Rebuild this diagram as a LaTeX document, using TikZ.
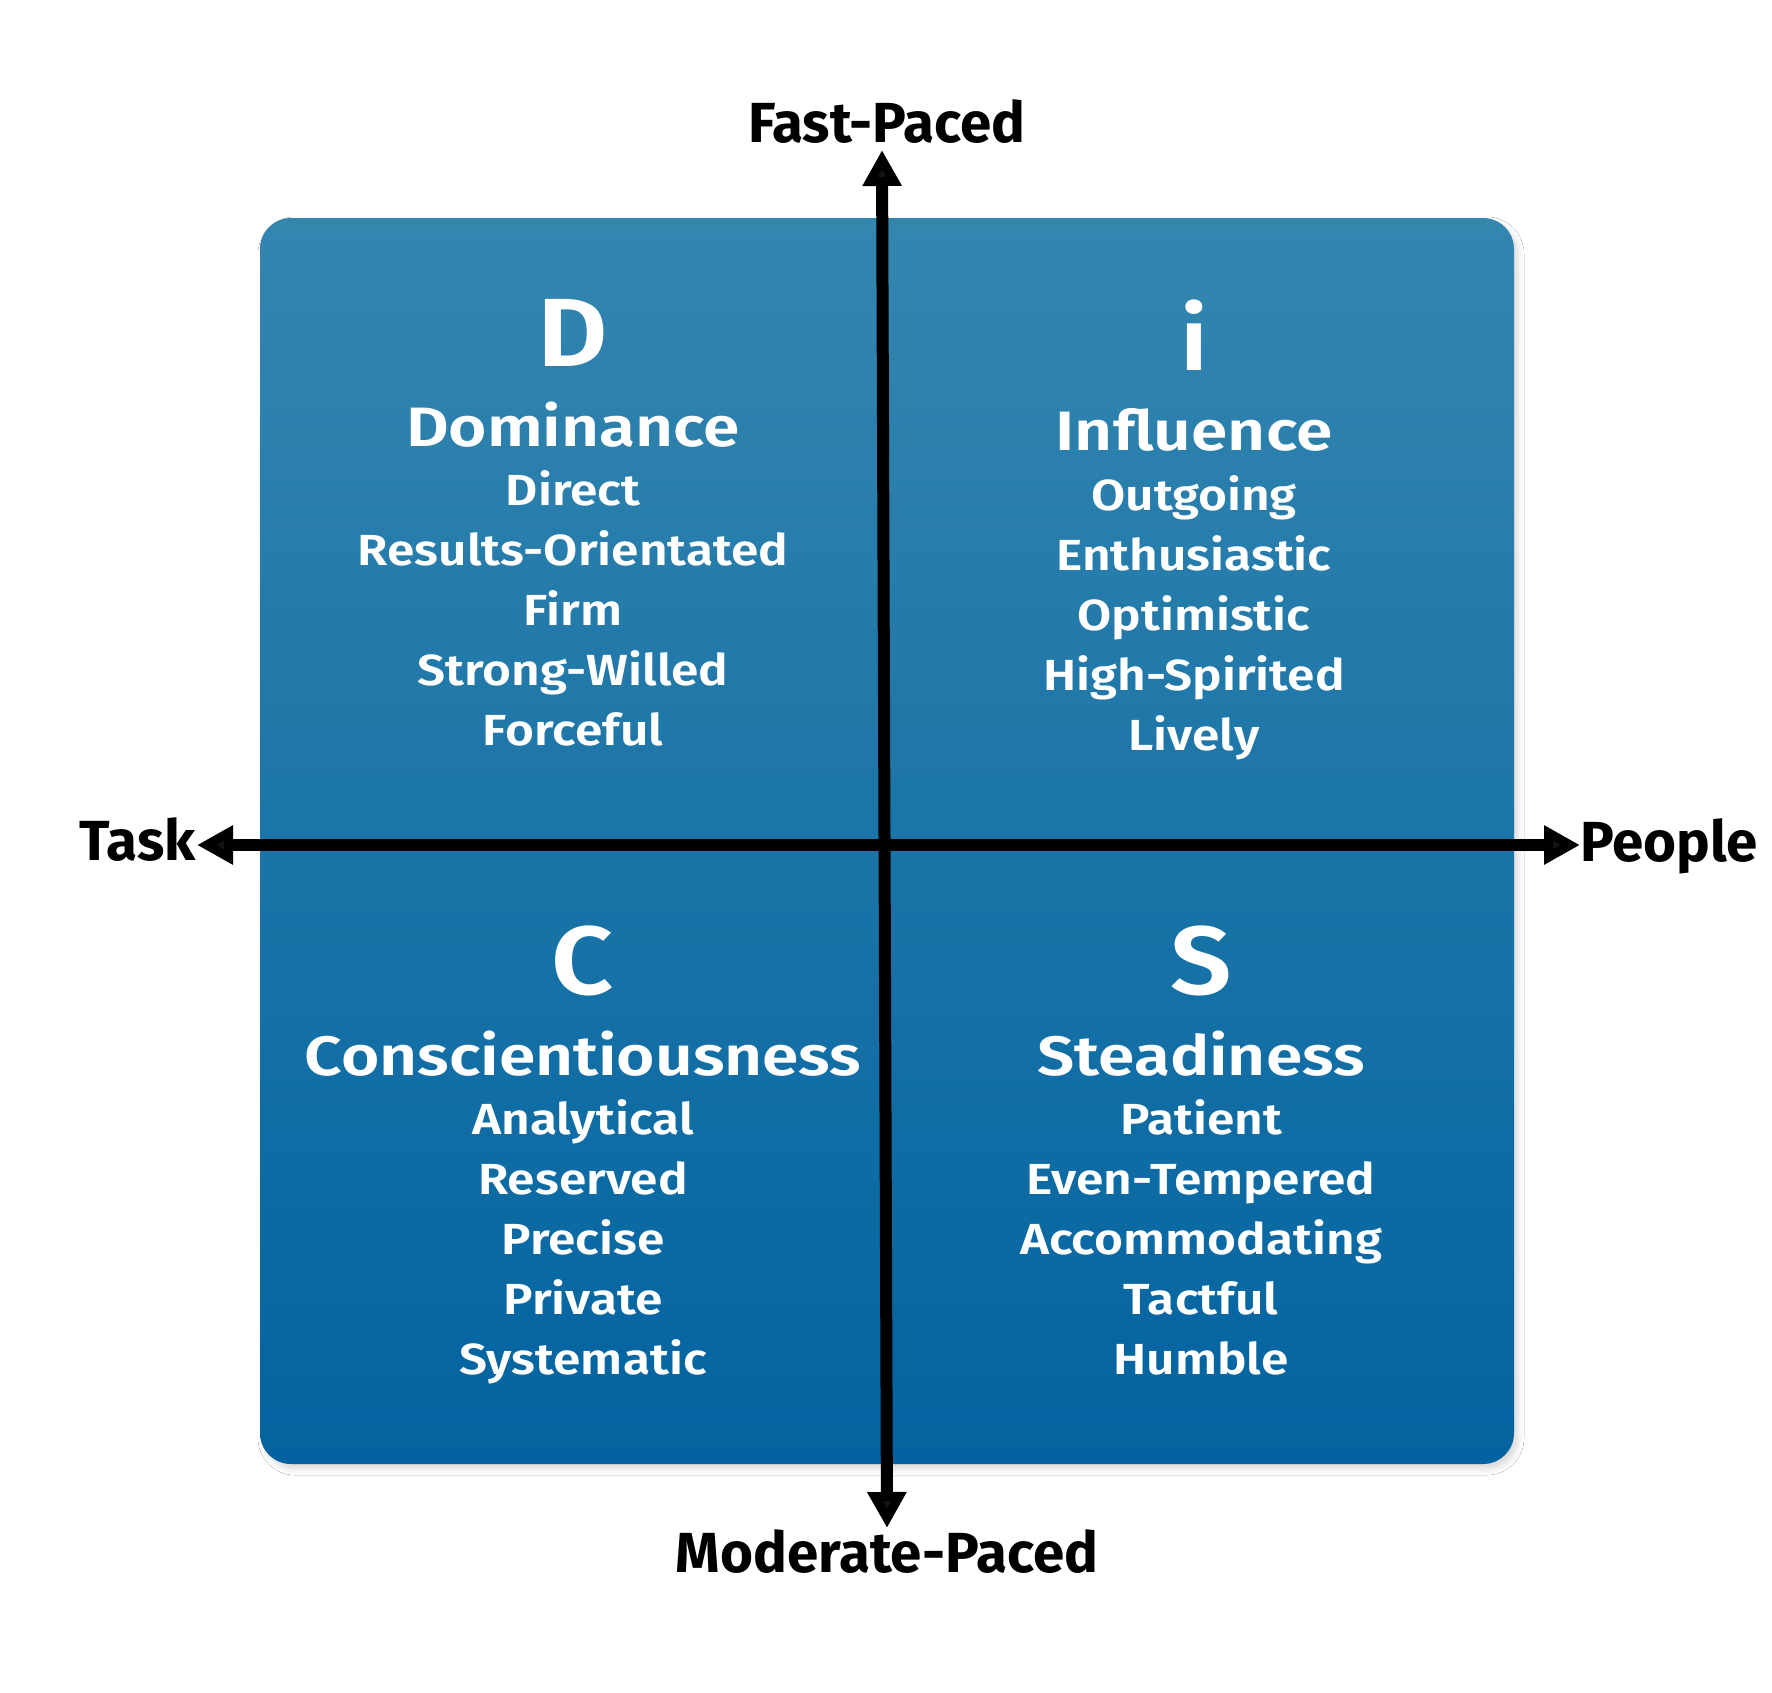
\documentclass[tikz,border=0pt]{standalone}
\usepackage{fontspec}
\setmainfont{Fira Sans}
\newfontfamily\titlefont{Fira Sans SemiBold}[FakeStretch=1.185]
\newfontfamily\itemfont{Fira Sans SemiBold}[FakeStretch=1.14]
\newfontfamily\letterfont{Fira Sans SemiBold}[FakeStretch=1.12]
\usetikzlibrary{arrows.meta,shadows.blur}
\definecolor{boxtop}{RGB}{52,134,175}
\definecolor{boxbot}{RGB}{2,99,160}
\tikzset{
  axis/.style={line width=12pt,-{Triangle[length=36pt,width=37pt]}},
  axislabel/.style={font=\fontsize{56.5}{60}\selectfont\bfseries,text=black,inner sep=0pt},
  bigletter/.style={font=\letterfont\fontsize{97}{100}\selectfont,text=white,inner sep=0pt,anchor=base},
  qtitle/.style={font=\titlefont\fontsize{55.5}{60}\selectfont,text=white,inner sep=0pt,anchor=base},
  qitem/.style={font=\itemfont\fontsize{43.5}{46}\selectfont,text=white,inner sep=0pt,anchor=base},
}
\begin{document}
\begin{tikzpicture}[x=1pt,y=-1pt]
\useasboundingbox[fill=white] (0,0) rectangle (1772,1692);
% box
\path[rounded corners=31pt,top color=boxtop,bottom color=boxbot,
  blur shadow={shadow xshift=4pt,shadow yshift=-5pt,shadow blur radius=6pt,shadow opacity=15}]
  (260,218) rectangle (1514,1464);
% axes
\coordinate (top) at (882,150);
\coordinate (bot) at (887,1528);
\coordinate (left) at (197,845);
\coordinate (right) at (1580,845);
\coordinate (vmid) at (884.5,839);
\coordinate (hmid) at (884.5,845);
\draw[axis] (vmid) -- (top);
\draw[axis] (vmid) -- (bot);
\draw[axis] (hmid) -- (left);
\draw[axis] (hmid) -- (right);
% axis labels
\node[axislabel,anchor=base] (fast) at (887,142) {Fast-Paced};
\node[axislabel,anchor=base] (mod) at (887,1572) {Moderate-Paced};
\node[axislabel,anchor=base east] (task) at (196,860) {Task};
\node[axislabel,anchor=base west] (people) at (1580,861) {People};
% D quadrant
\node[bigletter] (Dl) at (573,366) {D};
\node[qtitle] (Dt) at (573,446) {Dominance};
\foreach \t [count=\k from 0] in {Direct,Results-Orientated,Firm,Strong-Willed,Forceful}
  \node[qitem] (D\k) at (573,505+60*\k) {\t};
% i quadrant
\node[bigletter,font=\letterfont\fontsize{88}{90}\selectfont] (Il) at (1194,370) {i};
\node[qtitle] (It) at (1194,450) {Influence};
\foreach \t [count=\k from 0] in {Outgoing,Enthusiastic,Optimistic,High-Spirited,Lively}
  \node[qitem] (I\k) at (1194,510+60*\k) {\t};
% C quadrant
\node[bigletter] (Cl) at (583,994) {C};
\node[qtitle] (Ct) at (583,1075) {Conscientiousness};
\foreach \t [count=\k from 0] in {Analytical,Reserved,Precise,Private,Systematic}
  \node[qitem] (C\k) at (583,1134+60*\k) {\t};
% S quadrant
\node[bigletter] (Sl) at (1201,994) {S};
\node[qtitle] (St) at (1201,1075) {Steadiness};
\foreach \t [count=\k from 0] in {Patient,Even-Tempered,Accommodating,Tactful,Humble}
  \node[qitem] (S\k) at (1201,1134+60*\k) {\t};
\end{tikzpicture}
\end{document}
